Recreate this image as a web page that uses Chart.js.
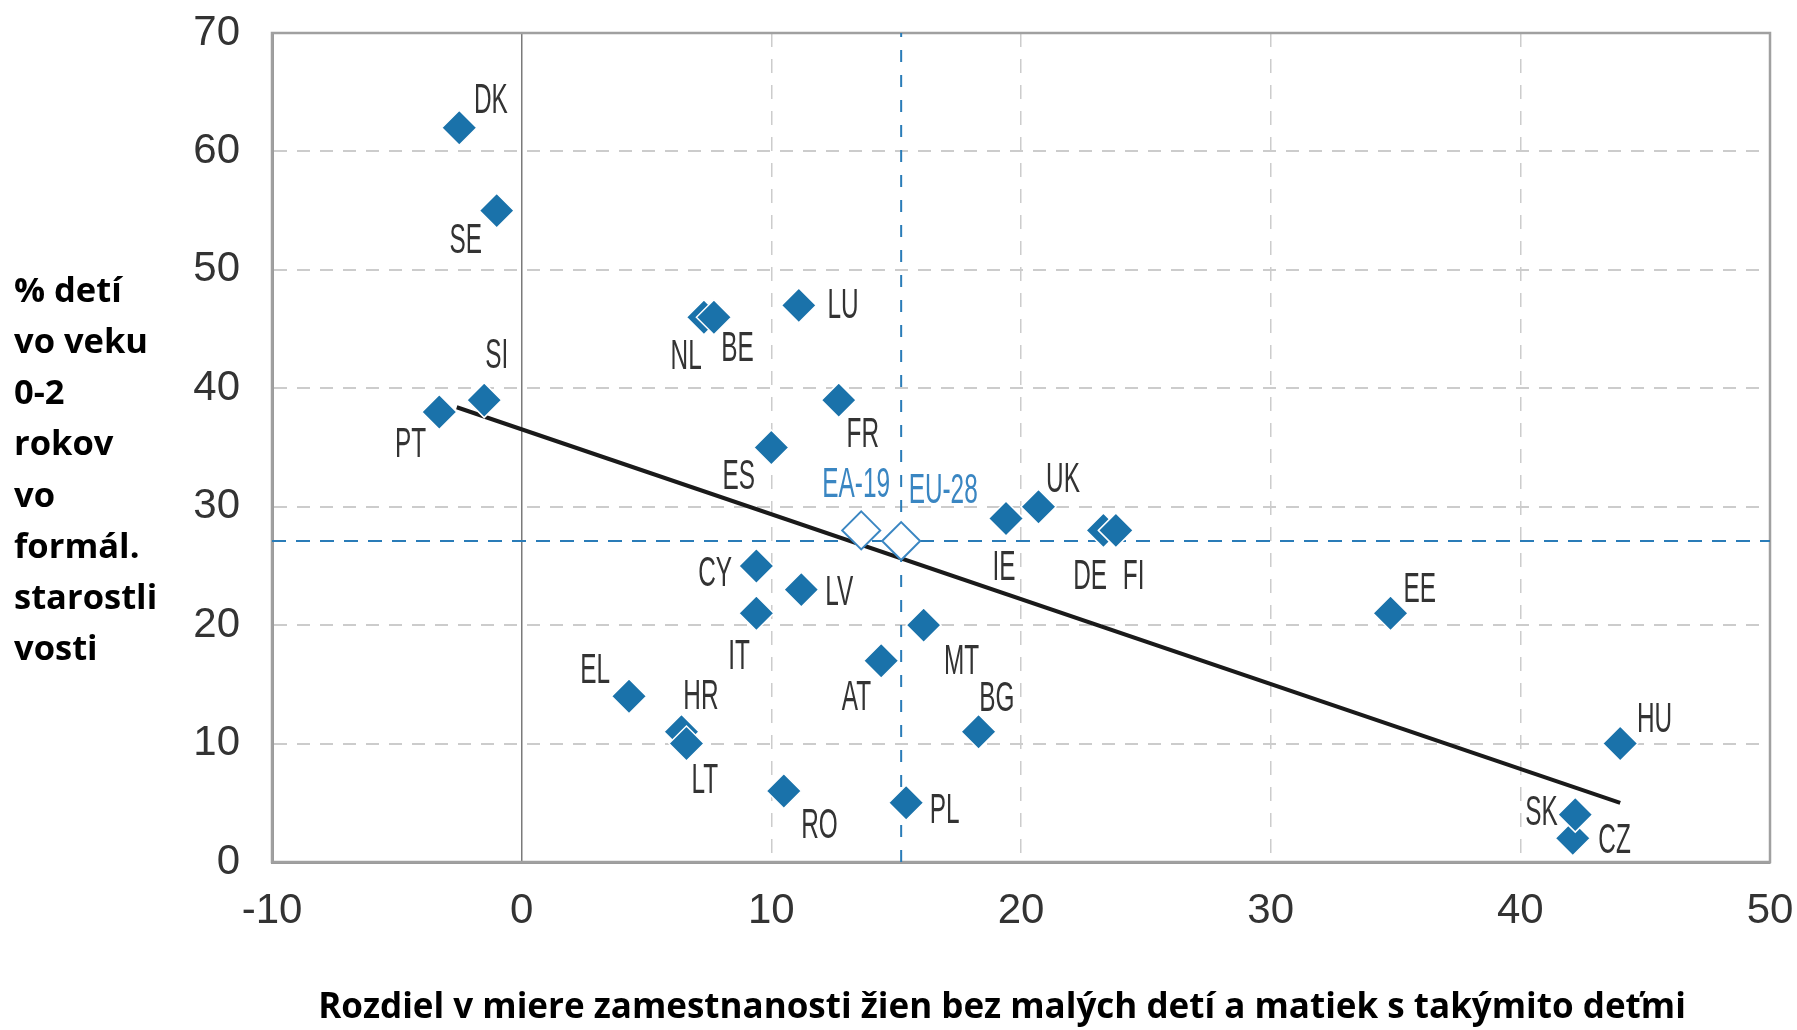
<!DOCTYPE html>
<html>
<head>
<meta charset="utf-8">
<script src="https://cdn.jsdelivr.net/npm/chart.js@4.4.1/dist/chart.umd.min.js"></script>
<style>
  html, body { margin: 0; padding: 0; background: #ffffff; }
  #wrap { width: 1797px; height: 1030px; position: relative; }
</style>
</head>
<body>
<div id="wrap"><canvas id="c" width="1797" height="1030"></canvas></div>
<script>
// ---------------- DATA ----------------
const countries = ['DK','SE','SI','PT','NL','BE','LU','FR','ES','IE','UK','DE','FI','CY','LV','IT','MT','AT','EL','HR','LT','BG','RO','PL','EE','HU','CZ','SK'];
const employmentGap = [-2.5,-1.0,-1.5,-3.3,7.3,7.7,11.1,12.7,10.0,19.4,20.7,23.3,23.8,9.4,11.2,9.4,16.1,14.4,4.3,6.4,6.6,18.3,10.5,15.4,34.8,44.0,42.1,42.2];
const childcare = [62,55,39,38,46,46,47,39,35,29,30,28,28,25,23,21,20,17,14,11,10,11,6,5,21,10,2,4];

const avgNames = ['EA-19','EU-28'];
const avgGap = [13.6, 15.2];
const avgCare = [28.0, 27.1];

const trendGap = [-2.6, 44.0];
const trendCare = [38.4, 5.0];

const refGap = 15.2;   // EU-28 reference (vertical dashed line)
const refCare = 27.1;  // EU-28 reference (horizontal dashed line)

const xTickValues = [-10, 0, 10, 20, 30, 40, 50];
const yTickValues = [0, 10, 20, 30, 40, 50, 60, 70];

const yTitleLines = ['% detí', 'vo veku', '0-2', 'rokov', 'vo', 'formál.', 'starostli', 'vosti'];
const xTitleText = 'Rozdiel v miere zamestnanosti žien bez malých detí a matiek s takýmito deťmi';

// ---------------- STYLE (label placement relative to marker, px) ----------------
const labelOffsets = {
  DK:[31.6,-29.3], SE:[-31,27], SI:[12.6,-47.3], PT:[-28.7,30.3], NL:[-17.8,36.7], BE:[23.5,28.7],
  LU:[44.2,-2], FR:[24,32.3], ES:[-32.7,26.7], IE:[-2,46.7], UK:[24.5,-30], DE:[-13.2,43.3],
  FI:[17.7,43.3], CY:[-41.3,5], LV:[37.9,0], IT:[-17.2,40.7], MT:[37.9,34.3], AT:[-24.7,34.7],
  EL:[-33.9,-28.3], HR:[19.5,-37.3], LT:[18.4,34.3], BG:[18.4,-35.7], RO:[35.6,32.3], PL:[38.5,5.3],
  EE:[29.2,-26.7], HU:[34.3,-26.7], CZ:[41.8,-0.7], SK:[-33.8,-4.7],
  'EA-19':[-5,-48.7], 'EU-28':[42,-53]
};

const BLUE = '#1a72aa';
const LIGHT_BLUE = '#3a86c2';
const TEXT = '#333333';

// ---------------- PLUGINS ----------------
const framePlugin = {
  id: 'frame',
  beforeDatasetsDraw(chart) {
    const {ctx, chartArea: a} = chart;
    ctx.save();
    ctx.strokeStyle = '#a0a0a0';
    ctx.lineWidth = 2.5;
    ctx.strokeRect(a.left, a.top, a.right - a.left, a.bottom - a.top);
    ctx.restore();
  }
};

function drawCondensed(ctx, text, x, y, color) {
  ctx.save();
  ctx.translate(x, y);
  ctx.scale(0.58, 1);
  ctx.fillStyle = color;
  ctx.font = '42px "Liberation Sans", Arial, sans-serif';
  ctx.textAlign = 'center';
  ctx.textBaseline = 'alphabetic';
  ctx.fillText(text, 0, 0);
  ctx.restore();
}

const labelPlugin = {
  id: 'pointLabels',
  afterDatasetsDraw(chart) {
    const ctx = chart.ctx;
    const m0 = chart.getDatasetMeta(0).data;
    countries.forEach((c, i) => {
      const el = m0[i];
      const o = labelOffsets[c] || [0, 0];
      drawCondensed(ctx, c, el.x + o[0], el.y + o[1] + 15, TEXT);
    });
    const m1 = chart.getDatasetMeta(1).data;
    avgNames.forEach((c, i) => {
      const el = m1[i];
      const o = labelOffsets[c] || [0, 0];
      drawCondensed(ctx, c, el.x + o[0], el.y + o[1] + 15, LIGHT_BLUE);
    });
  }
};

const titlesPlugin = {
  id: 'axisTitles',
  afterDraw(chart) {
    const ctx = chart.ctx;
    ctx.save();
    ctx.fillStyle = '#000';
    ctx.font = 'bold 34.5px "Open Sans", sans-serif';
    ctx.textAlign = 'left';
    ctx.textBaseline = 'middle';
    yTitleLines.forEach((t, i) => ctx.fillText(t, 14, 292 + i * 51.2));
    ctx.font = 'bold 35px "Open Sans", sans-serif';
    ctx.textAlign = 'center';
    ctx.fillText(xTitleText, 1002, 1008);
    ctx.restore();
  }
};

// ---------------- CHART ----------------
const tickFont = { family: '"Liberation Sans", Arial, sans-serif', size: 42 };

new Chart(document.getElementById('c'), {
  type: 'scatter',
  data: {
    datasets: [
      {
        label: 'Krajiny',
        data: countries.map((c, i) => ({ x: employmentGap[i], y: childcare[i] })),
        pointStyle: 'rectRot',
        pointRadius: 17.5,
        pointHoverRadius: 17.5,
        backgroundColor: BLUE,
        borderColor: '#ffffff',
        borderWidth: 1.5,
        order: 1
      },
      {
        label: 'Priemery',
        data: avgNames.map((c, i) => ({ x: avgGap[i], y: avgCare[i] })),
        pointStyle: 'rectRot',
        pointRadius: 19,
        pointHoverRadius: 19,
        backgroundColor: '#ffffff',
        borderColor: LIGHT_BLUE,
        borderWidth: 2,
        order: 2
      },
      {
        type: 'line',
        label: 'Trend',
        data: trendGap.map((g, i) => ({ x: g, y: trendCare[i] })),
        borderColor: '#1a1a1a',
        borderWidth: 4,
        pointRadius: 0,
        fill: false,
        order: 3
      },
      {
        type: 'line',
        label: 'EU-28 x',
        data: [{ x: refGap, y: 0 }, { x: refGap, y: 70 }],
        borderColor: '#2a7cb8',
        borderWidth: 2,
        borderDash: [12, 13],
        pointRadius: 0,
        fill: false,
        order: 4
      },
      {
        type: 'line',
        label: 'EU-28 y',
        data: [{ x: -10, y: refCare }, { x: 50, y: refCare }],
        borderColor: '#2a7cb8',
        borderWidth: 2,
        borderDash: [14, 10],
        pointRadius: 0,
        fill: false,
        order: 5
      }
    ]
  },
  options: {
    responsive: false,
    animation: false,
    devicePixelRatio: 1,
    layout: { padding: { top: 33, right: 27, left: 0, bottom: 0 } },
    plugins: { legend: { display: false }, tooltip: { enabled: false } },
    events: [],
    scales: {
      x: {
        type: 'linear',
        min: -10, max: 50,
        afterBuildTicks: s => { s.ticks = xTickValues.map(v => ({ value: v })); },
        afterFit: s => { s.height = 168; s.paddingLeft = 0; s.paddingRight = 0; },
        ticks: { font: tickFont, color: TEXT, padding: 24, maxRotation: 0 },
        grid: {
          drawTicks: false,
          color: c => (c.tick && c.tick.value === 0) ? '#7a7a7a' : '#cccccc',
          lineWidth: 1.5
        },
        border: {
          display: true, color: '#9a9a9a', width: 3,
          dash: c => (c.tick && c.tick.value === 0) ? [] : [14, 12]
        }
      },
      y: {
        type: 'linear',
        min: 0, max: 70,
        afterBuildTicks: s => { s.ticks = yTickValues.map(v => ({ value: v })); },
        afterFit: s => { s.width = 272; s.paddingTop = 0; s.paddingBottom = 0; },
        ticks: { font: tickFont, color: TEXT, padding: 32 },
        grid: { drawTicks: false, color: '#cccccc', lineWidth: 2 },
        border: { display: true, color: '#9a9a9a', width: 3, dash: [13, 10] }
      }
    }
  },
  plugins: [framePlugin, labelPlugin, titlesPlugin]
});
</script>
</body>
</html>
